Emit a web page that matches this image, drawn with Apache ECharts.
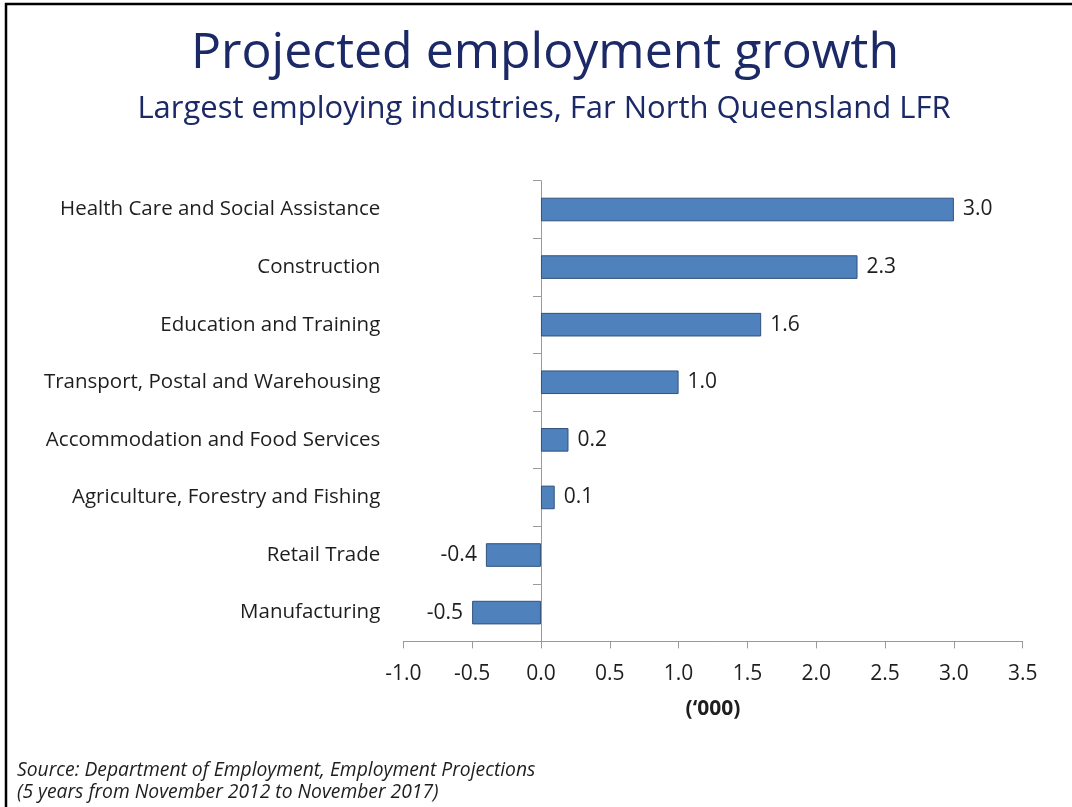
<!DOCTYPE html>
<html>
<head>
<meta charset="utf-8">
<script src="https://cdn.jsdelivr.net/npm/echarts@6/dist/echarts.min.js"></script>
<style>
html,body{margin:0;padding:0;background:#fff;}
#c{width:1072px;height:807px;}
</style>
</head>
<body>
<div id="c"></div>
<script>
const categories = [
  'Health Care and Social Assistance',
  'Construction',
  'Education and Training',
  'Transport, Postal and Warehousing',
  'Accommodation and Food Services',
  'Agriculture, Forestry and Fishing',
  'Retail Trade',
  'Manufacturing'
];
const values = [3.0, 2.3, 1.6, 1.0, 0.2, 0.1, -0.4, -0.5];
const titleText = 'Projected employment growth';
const subtitleText = 'Largest employing industries, Far North Queensland LFR';
const axisName = '(\u2018000)';
const sourceLines = [
  'Source: Department of Employment, Employment Projections',
  '(5 years from November 2012 to November 2017)'
];

const FONT = 'Open Sans';
const chart = echarts.init(document.getElementById('c'), null, {renderer: 'canvas'});

chart.setOption({
  backgroundColor: '#ffffff',
  animation: false,
  textStyle: {fontFamily: FONT},
  grid: {left: 403.3, right: 49.3, top: 180.7, bottom: 165.6, containLabel: false, outerBoundsMode: 'none'},
  xAxis: {
    type: 'value',
    min: -1, max: 3.5, interval: 0.5,
    axisLine: {show: true, onZero: false, lineStyle: {color: '#9a9a9a', width: 1}},
    axisTick: {show: true, length: 7, lineStyle: {color: '#9a9a9a'}},
    splitLine: {show: false},
    axisLabel: {
      margin: 22, fontSize: 21, color: '#1e1e1e', fontFamily: FONT,
      formatter: v => v.toFixed(1)
    },
    name: axisName,
    nameLocation: 'middle',
    nameGap: 57,
    nameTextStyle: {fontSize: 21, fontWeight: 'bold', color: '#1e1e1e', fontFamily: FONT}
  },
  yAxis: {
    type: 'category',
    inverse: true,
    data: categories,
    axisLine: {show: true, onZero: true, lineStyle: {color: '#9a9a9a', width: 1}},
    axisTick: {show: true, length: 8, lineStyle: {color: '#9a9a9a'}},
    axisLabel: {margin: 23, fontSize: 20.5, color: '#1e1e1e', fontFamily: FONT, padding: [3, 0, 0, 0]}
  },
  series: [{
    type: 'bar',
    barCategoryGap: '59%',
    data: values.map(v => ({value: v, label: {position: v < 0 ? 'left' : 'right'}})),
    itemStyle: {color: '#4F81BD', borderColor: '#30527d', borderWidth: 1},
    label: {
      show: true, distance: 9, fontSize: 21, color: '#1e1e1e', fontFamily: FONT, padding: [3, 0, 0, 0],
      formatter: p => p.value.toFixed(1)
    }
  }],
  graphic: [
    {type: 'rect', shape: {x: 6, y: 4, width: 1200, height: 1000}, style: {fill: 'none', stroke: '#000', lineWidth: 2.5}, silent: true},
    {type: 'text', x: 545, y: 54, style: {text: titleText, font: '50px "Open Sans"', fill: '#1b2966', align: 'center', verticalAlign: 'middle'}},
    {type: 'text', x: 544, y: 109, style: {text: subtitleText, font: '31px "Open Sans"', fill: '#1b2966', align: 'center', verticalAlign: 'middle'}},
    {type: 'text', x: 17, y: 771, style: {text: sourceLines[0], font: 'italic 19.3px "Open Sans"', fill: '#1e1e1e', align: 'left', verticalAlign: 'middle'}},
    {type: 'text', x: 17, y: 793, style: {text: sourceLines[1], font: 'italic 19.3px "Open Sans"', fill: '#1e1e1e', align: 'left', verticalAlign: 'middle'}}
  ]
});
</script>
</body>
</html>
